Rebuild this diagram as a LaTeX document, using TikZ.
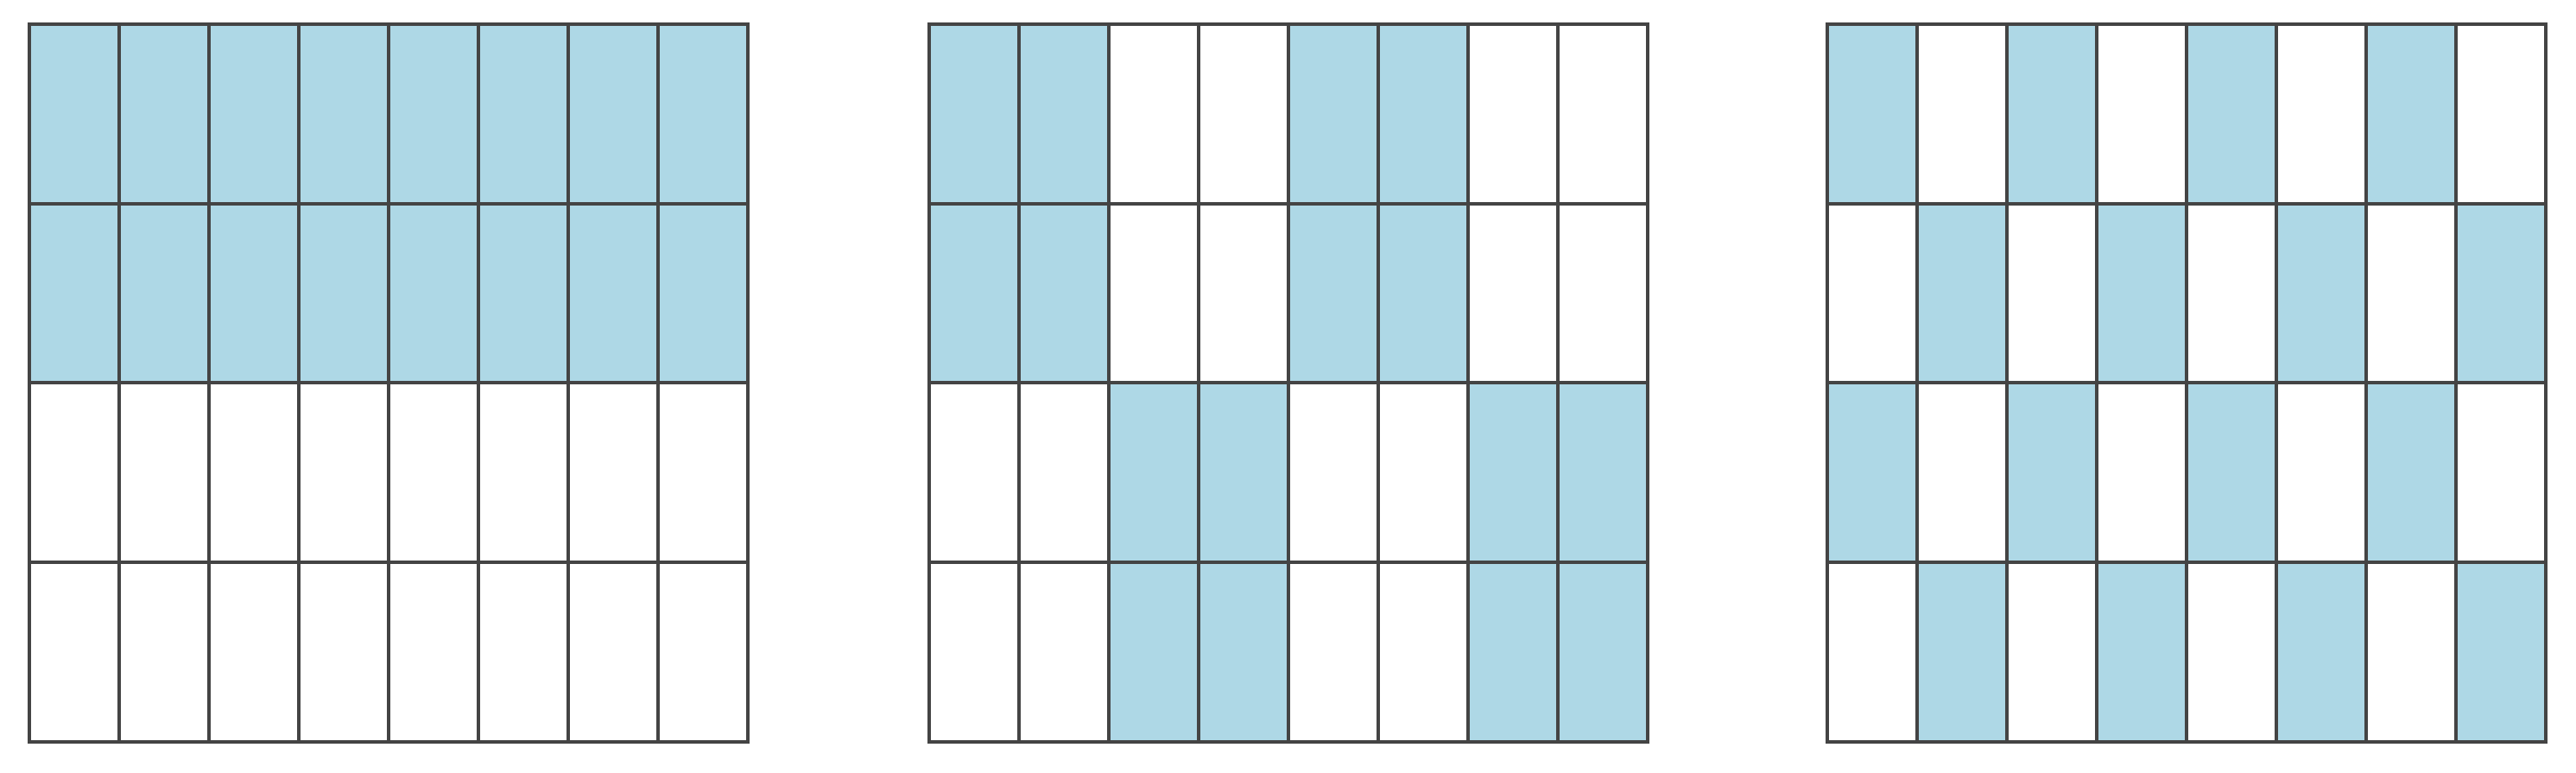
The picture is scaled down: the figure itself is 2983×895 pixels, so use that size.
\documentclass[tikz,border=0pt]{standalone}
\definecolor{cellblue}{RGB}{174,216,230}
\definecolor{gridline}{RGB}{68,68,68}
\tikzset{
  cellfill/.style={fill=cellblue, draw=none},
  gridlines/.style={draw=gridline, line width=0.04cm}
}
\begin{document}
\begin{tikzpicture}[x=0.01cm,y=-0.01cm]
\useasboundingbox (0,0) rectangle (2983,895);
% cell size
\def\cw{104}
\def\ch{207.75}
% Grid 1: top two rows blue
\foreach \r in {0,1}{
  \foreach \c in {0,...,7}{
    \fill[cellblue] ({34+\c*\cw},{28+\r*\ch}) rectangle ++(\cw,\ch);
  }
}
% Grid 2
\foreach \r in {0,1}{
  \foreach \c in {0,1,4,5}{
    \fill[cellblue] ({1076+\c*\cw},{28+\r*\ch}) rectangle ++(\cw,\ch);
  }
}
\foreach \r in {2,3}{
  \foreach \c in {2,3,6,7}{
    \fill[cellblue] ({1076+\c*\cw},{28+\r*\ch}) rectangle ++(\cw,\ch);
  }
}
% Grid 3
\foreach \r in {0,2}{
  \foreach \c in {0,2,4,6}{
    \fill[cellblue] ({2116+\c*\cw},{28+\r*\ch}) rectangle ++(\cw,\ch);
  }
}
\foreach \r in {1,3}{
  \foreach \c in {1,3,5,7}{
    \fill[cellblue] ({2116+\c*\cw},{28+\r*\ch}) rectangle ++(\cw,\ch);
  }
}
% Grid lines
\foreach \gx in {34,1076,2116}{
  \foreach \c in {0,...,8}{
    \draw[gridlines] ({\gx+\c*\cw},28) -- ({\gx+\c*\cw},859);
  }
  \foreach \r in {0,...,4}{
    \draw[gridlines,line cap=rect] (\gx,{28+\r*\ch}) -- ({\gx+8*\cw},{28+\r*\ch});
  }
}
\end{tikzpicture}
\end{document}
